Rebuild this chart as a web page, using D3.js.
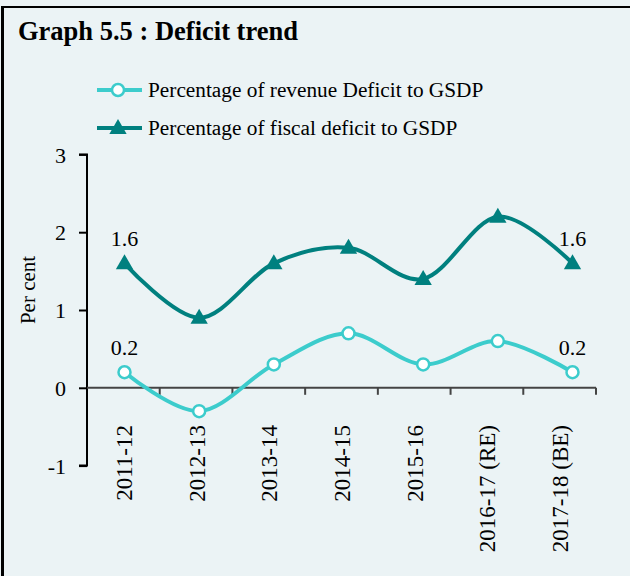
<!DOCTYPE html>
<html><head><meta charset="utf-8">
<script src="https://cdn.jsdelivr.net/npm/d3@7"></script>
<style>
html,body{margin:0;padding:0;background:#ebf3f5;}
svg{display:block;font-family:"Liberation Serif","Times New Roman",serif;}
</style></head><body>
<svg id="c" width="630" height="576"></svg>
<script>
const categories = ["2011-12","2012-13","2013-14","2014-15","2015-16","2016-17 (RE)","2017-18 (BE)"];
const revenueDeficit = [0.2,-0.3,0.3,0.7,0.3,0.6,0.2];
const fiscalDeficit = [1.6,0.9,1.6,1.8,1.4,2.2,1.6];
const yTicks = [-1,0,1,2,3];
const seriesNames = ["Percentage of revenue Deficit to GSDP","Percentage of fiscal deficit to GSDP"];

const svg = d3.select("#c");
svg.append("rect").attr("width",630).attr("height",576).attr("fill","#ebf3f5");
// border
svg.append("line").attr("x1",2.5).attr("x2",2.5).attr("y1",6).attr("y2",576).attr("stroke","#000").attr("stroke-width",3);
svg.append("line").attr("x1",1).attr("x2",630).attr("y1",7).attr("y2",7).attr("stroke","#000").attr("stroke-width",2);

svg.append("text").attr("x",18).attr("y",40).attr("font-size",26.5).attr("font-weight","bold").text("Graph 5.5 : Deficit trend");

const x = d3.scaleBand().domain(categories).range([87,596]);
const xp = d3.scalePoint().domain(categories).range([124.5,572.5]);
const y = d3.scaleLinear().domain([-1,3]).range([465.6,154.4]);

const revColor = "#3ccccc", fisColor = "#00807f";

// y axis
const yAxis = svg.append("g").attr("transform","translate(87,0)")
  .call(d3.axisLeft(y).tickValues(yTicks).tickFormat(d=>String(d)).tickSize(8).tickPadding(13));
yAxis.select(".domain").attr("stroke","#000").attr("stroke-width",2).attr("d","M-8,"+y(3)+"H0V"+y(-1)+"H-8");
yAxis.selectAll(".tick line").attr("stroke","#000").attr("stroke-width",2);
yAxis.selectAll("text").attr("font-size",22).attr("fill","#000").attr("font-family","Liberation Serif").attr("dy","0.35em");

// x axis at zero
const xAxis = svg.append("g").attr("transform","translate(0,"+y(0)+")")
  .call(d3.axisBottom(x).tickSize(0).tickFormat(""));
xAxis.select(".domain").attr("stroke","#444").attr("stroke-width",2).attr("d","M87,0H596");
const edges = categories.map(c=>x(c)).concat([x.range()[1]]).slice(1);
xAxis.selectAll(".edge").data(edges).enter().append("line")
  .attr("x1",d=>d).attr("x2",d=>d).attr("y1",0).attr("y2",7).attr("stroke","#444").attr("stroke-width",2);

// x labels
svg.append("g").selectAll("text").data(categories).enter().append("text")
  .attr("transform",d=>"translate("+(x(d)+x.bandwidth()/2+8.5)+",425) rotate(-90)")
  .attr("text-anchor","end").attr("font-size",23).text(d=>d);

// y label
svg.append("text").attr("transform","translate(35,290) rotate(-90)").attr("text-anchor","middle")
  .attr("font-size",21).text("Per cent");

const cx = (d,i)=>xp(categories[i]);
const line = d3.line().x((d,i)=>cx(d,i)).y(d=>y(d)).curve(d3.curveCardinal.tension(0));

svg.append("path").attr("d",line(fiscalDeficit)).attr("fill","none").attr("stroke",fisColor).attr("stroke-width",4);
svg.append("path").attr("d",line(revenueDeficit)).attr("fill","none").attr("stroke",revColor).attr("stroke-width",4);

const tri = d3.symbol().type(d3.symbolTriangle).size(130);
svg.append("g").selectAll("path").data(fiscalDeficit).enter().append("path")
  .attr("d",tri).attr("transform",(d,i)=>"translate("+cx(d,i)+","+(y(d)+1)+")").attr("fill",fisColor);
svg.append("g").selectAll("circle").data(revenueDeficit).enter().append("circle")
  .attr("cx",cx).attr("cy",d=>y(d)).attr("r",6).attr("fill","#fff").attr("stroke",revColor).attr("stroke-width",2.5);

// data labels (first and last)
const lbl = [[fiscalDeficit,0],[fiscalDeficit,6],[revenueDeficit,0],[revenueDeficit,6]];
svg.append("g").selectAll("text").data(lbl).enter().append("text")
  .attr("x",d=>cx(null,d[1])).attr("y",d=>y(d[0][d[1]])-17).attr("text-anchor","middle").attr("font-size",22)
  .text(d=>d3.format(".1f")(d[0][d[1]]));

// legend
const lg = svg.append("g");
[[revColor,"circle",90],[fisColor,"tri",128]].forEach((s,i)=>{
  lg.append("line").attr("x1",97).attr("x2",142).attr("y1",s[2]).attr("y2",s[2]).attr("stroke",s[0]).attr("stroke-width",4);
  if(s[1]==="circle") lg.append("circle").attr("cx",118).attr("cy",s[2]).attr("r",6).attr("fill","#fff").attr("stroke",s[0]).attr("stroke-width",2.5);
  else lg.append("path").attr("d",tri).attr("transform","translate(118,"+(s[2]+1)+")").attr("fill",s[0]);
  lg.append("text").attr("x",148).attr("y",s[2]).attr("dy","0.35em").attr("font-size",21.3).text(seriesNames[i]);
});
</script></body></html>
